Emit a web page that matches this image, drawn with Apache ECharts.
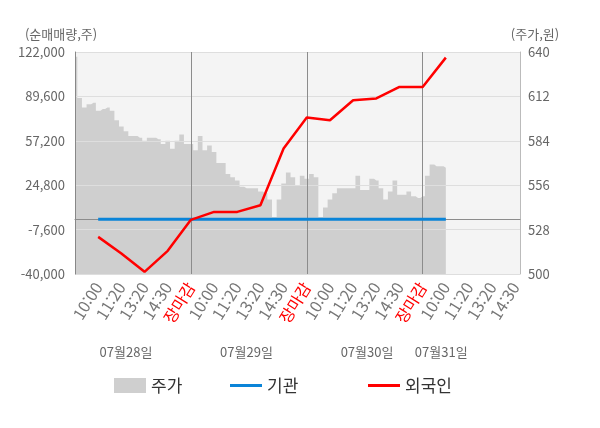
<!DOCTYPE html>
<html lang="ko">
<head>
    <meta charset="utf-8">
    <title>순매매량 / 주가</title>
    <script src="https://cdn.jsdelivr.net/npm/echarts@6/dist/echarts.min.js"></script>
    <style>
        html, body { margin: 0; padding: 0; background: #fff; }
        #chart { width: 600px; height: 428px; }
    </style>
</head>
<body>
    <div id="chart"></div>
    <script>
        // tick labels (every 5th point), one block per trading day
        var tickLabels = [
            '10:00', '11:20', '13:20', '14:30', '장마감',
            '10:00', '11:20', '13:20', '14:30', '장마감',
            '10:00', '11:20', '13:20', '14:30', '장마감',
            '10:00', '11:20', '13:20', '14:30'
        ];
        var dateLabels = ['07월28일', '07월29일', '07월30일', '07월31일'];
        var dateIdx = [11, 37, 63, 79];

        // 주가 (원), intraday points
        var price = [
            637, 611, 605, 607, 608, 603, 604, 605, 603, 597,
            593, 590, 587, 587, 586, 584, 586, 586, 585, 582,
            584, 579, 584, 588, 582, 582, 578, 587, 578, 581,
            577, 570, 570, 563, 561, 559, 555, 554, 554, 554,
            552, 551, 547, 536, 547, 557, 564, 561, 556, 562,
            560, 563, 561, 536, 542, 547, 551, 554, 554, 554,
            554, 562, 553, 553, 560, 559, 554, 547, 552, 559,
            550, 550, 552, 549, 548, 549, 562, 569, 568, 568,
            567
        ];

        // 순매매량 (주), one value per tick label from the first 10:00
        var foreign = [-12900, -25000, -38400, -23100, -500, 5300, 5300, 10200,
                       51600, 74200, 72200, 86800, 88100, 96500, 96500, 117900];
        var institution = [0, 0, 0, 0, 0, 0, 0, 0, 0, 0, 0, 0, 0, 0, 0, 0];

        var total = tickLabels.length * 5 + 2;
        var categories = [];
        for (var i = 0; i < total; i++) {
            categories.push(i % 5 === 0 && i > 0 ? tickLabels[i / 5 - 1] : '');
        }

        function toPoints(values) {
            var out = [];
            for (var i = 0; i < values.length; i++) {
                out.push([(i + 1) * 5, values[i]]);
            }
            return out;
        }

        var font = 'Noto Sans CJK KR';
        var legendText = { fontSize: 17, color: '#333', fontFamily: font };
        var myChart = echarts.init(document.getElementById('chart'));

        myChart.setOption({
            animation: false,
            textStyle: { fontFamily: font },
            grid: {
                left: 75, right: 80, top: 52, bottom: 154,
                show: true, backgroundColor: '#f4f4f4', borderWidth: 0
            },
            legend: [
                { left: 114, top: 377, padding: 0, itemWidth: 32, itemHeight: 15, itemGap: 6,
                  data: [{ name: '주가', icon: 'rect' }], textStyle: legendText },
                { left: 230, top: 377, padding: 0, itemWidth: 32, itemHeight: 3,
                  data: [{ name: '기관', icon: 'rect' }], textStyle: legendText },
                { left: 368, top: 377, padding: 0, itemWidth: 32, itemHeight: 3,
                  data: [{ name: '외국인', icon: 'rect' }], textStyle: legendText }
            ],
            xAxis: [{
                type: 'category',
                data: categories,
                boundaryGap: false,
                z: 5,
                axisLine: { lineStyle: { color: '#888' } },
                axisTick: {
                    length: 4,
                    interval: function (idx) { return idx % 25 === 0; },
                    lineStyle: { color: '#888' }
                },
                splitLine: {
                    show: true,
                    interval: function (idx) { return idx % 25 === 0 && idx > 0; },
                    lineStyle: { color: '#8c8c8c' }
                },
                axisLabel: {
                    interval: function (idx) { return idx % 5 === 0 && idx > 0; },
                    rotate: 58,
                    margin: 10,
                    fontSize: 16,
                    fontFamily: font,
                    color: function (value, idx) {
                        if (value === '장마감') return '#ff0000';
                        if (idx === 80) return '#222';
                        return '#777';
                    }
                }
            }, {
                type: 'category',
                data: categories,
                boundaryGap: false,
                position: 'bottom',
                offset: 70,
                axisLine: { show: false },
                axisTick: { show: false },
                axisLabel: {
                    interval: function (idx) { return dateIdx.indexOf(idx) >= 0; },
                    formatter: function (value, idx) { return dateLabels[dateIdx.indexOf(idx)]; },
                    margin: 2,
                    fontSize: 13,
                    color: '#666',
                    fontFamily: font
                }
            }],
            yAxis: [{
                type: 'value',
                name: '(순매매량,주)',
                nameLocation: 'end',
                nameGap: 11,
                nameTextStyle: { color: '#666', fontSize: 13, align: 'center', padding: [0, 28, 0, 0] },
                min: -40000, max: 122000, interval: 32400,
                z: 5,
                axisLine: { show: true, lineStyle: { color: '#888' } },
                axisTick: { show: false },
                splitLine: { lineStyle: { color: '#dedede' } },
                axisLabel: {
                    fontSize: 13, color: '#666', margin: 10,
                    formatter: function (v) { return v.toLocaleString('en-US'); }
                }
            }, {
                type: 'value',
                name: '(주가,원)',
                nameLocation: 'end',
                nameGap: 11,
                nameTextStyle: { color: '#666', fontSize: 13, align: 'center', padding: [0, 0, 0, 30] },
                min: 500, max: 640, interval: 28,
                z: 5,
                axisLine: { show: true, lineStyle: { color: '#bbb' } },
                axisTick: { show: false },
                splitLine: { show: false },
                axisLabel: { fontSize: 13, color: '#666', margin: 8 }
            }],
            series: [{
                name: '주가',
                type: 'line',
                yAxisIndex: 1,
                data: price,
                step: 'middle',
                showSymbol: false,
                z: 1,
                itemStyle: { color: '#cfcfcf' },
                lineStyle: { width: 0 },
                areaStyle: { color: '#cfcfcf', opacity: 1 }
            }, {
                name: '기관',
                type: 'line',
                data: toPoints(institution),
                symbol: 'none',
                z: 10,
                itemStyle: { color: '#0a84d8' },
                lineStyle: { width: 3, color: '#0a84d8' },
                markLine: {
                    silent: true,
                    symbol: 'none',
                    label: { show: false },
                    lineStyle: { color: '#8c8c8c', width: 1, type: 'solid' },
                    data: [{ yAxis: 0 }],
                    z: 6
                }
            }, {
                name: '외국인',
                type: 'line',
                data: toPoints(foreign),
                symbol: 'none',
                z: 11,
                itemStyle: { color: '#ff0000' },
                lineStyle: { width: 2.5, color: '#ff0000' }
            }]
        });
    </script>
</body>
</html>
